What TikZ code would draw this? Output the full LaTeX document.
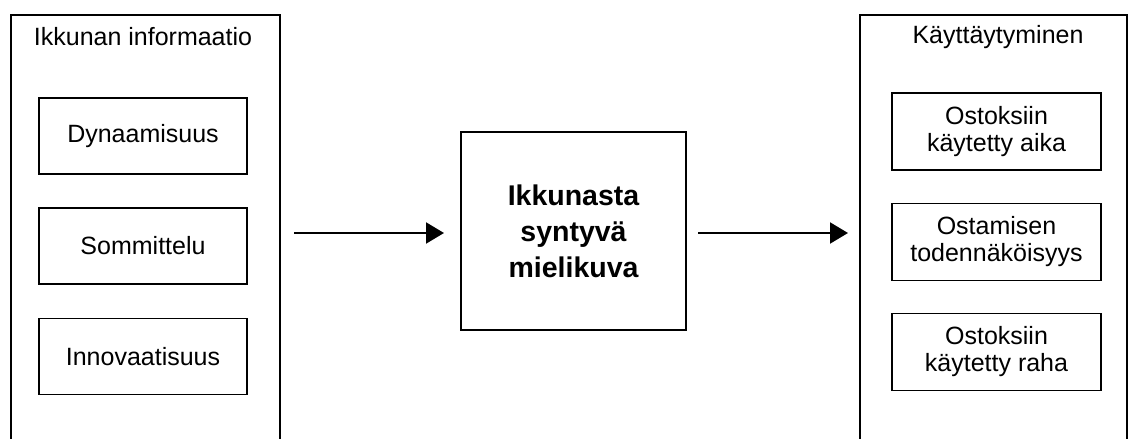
\documentclass[tikz,border=0pt]{standalone}
\usepackage{fontspec}
\setmainfont{Liberation Sans}
\usetikzlibrary{arrows.meta}
\tikzset{
  outerbox/.style={draw=black, line width=2pt, minimum width=269pt, minimum height=480pt, anchor=north, inner sep=0pt},
  innerbox/.style={draw=black, line width=1.6pt, minimum width=208pt, minimum height=76pt, inner sep=0pt, align=center,
                   font=\fontsize{25}{27}\selectfont},
  midbox/.style={draw=black, line width=2pt, minimum width=225pt, minimum height=198pt, inner sep=0pt, align=center,
                 font=\fontsize{28.5}{36}\selectfont\bfseries},
  titletext/.style={font=\fontsize{25}{27}\selectfont, inner sep=0pt},
  flowarrow/.style={line width=2pt, -{Triangle[length=18pt,width=21pt]}}
}
\begin{document}
\begin{tikzpicture}[x=1pt,y=-1pt]
\useasboundingbox (0,0) rectangle (1130,439);
\clip (0,0) rectangle (1130,439);
\fill[white] (0,0) rectangle (1130,439);
% left container
\node[outerbox] (lo) at (145.5,14) {};
\node[titletext] (lotitle) at (143,37) {Ikkunan informaatio};
\node[innerbox] (dyn) at (143,136) {Dynaamisuus};
\node[innerbox] (som) at (143,246) {Sommittelu};
\node[innerbox] (inn) at (143,356.5) {Innovaatisuus};
% middle
\node[midbox] (mid) at (573.5,231) {Ikkunasta\\syntyvä\\mielikuva};
% right container
\node[outerbox, minimum width=267pt] (ro) at (993.5,14) {};
\node[titletext] (rotitle) at (998,37) {Käyttäytyminen};
\node[innerbox, minimum width=209pt, minimum height=77pt] (aika) at (996.5,131.5) {Ostoksiin\\käytetty aika};
\node[innerbox, minimum width=209pt, minimum height=77pt] (tod) at (996.5,242) {Ostamisen\\todennäköisyys};
\node[innerbox, minimum width=209pt, minimum height=77pt] (raha) at (996.5,352) {Ostoksiin\\käytetty raha};
% arrows
\coordinate (a1s) at (293,233);
\coordinate (a1e) at (444,233);
\coordinate (a2s) at (697,233);
\coordinate (a2e) at (848,233);
\draw[flowarrow] (lo.east |- a1s) ++(13,0) -- (a1e);
\draw[flowarrow] (mid.east |- a2s) ++(11,0) -- (a2e);
\end{tikzpicture}
\end{document}
